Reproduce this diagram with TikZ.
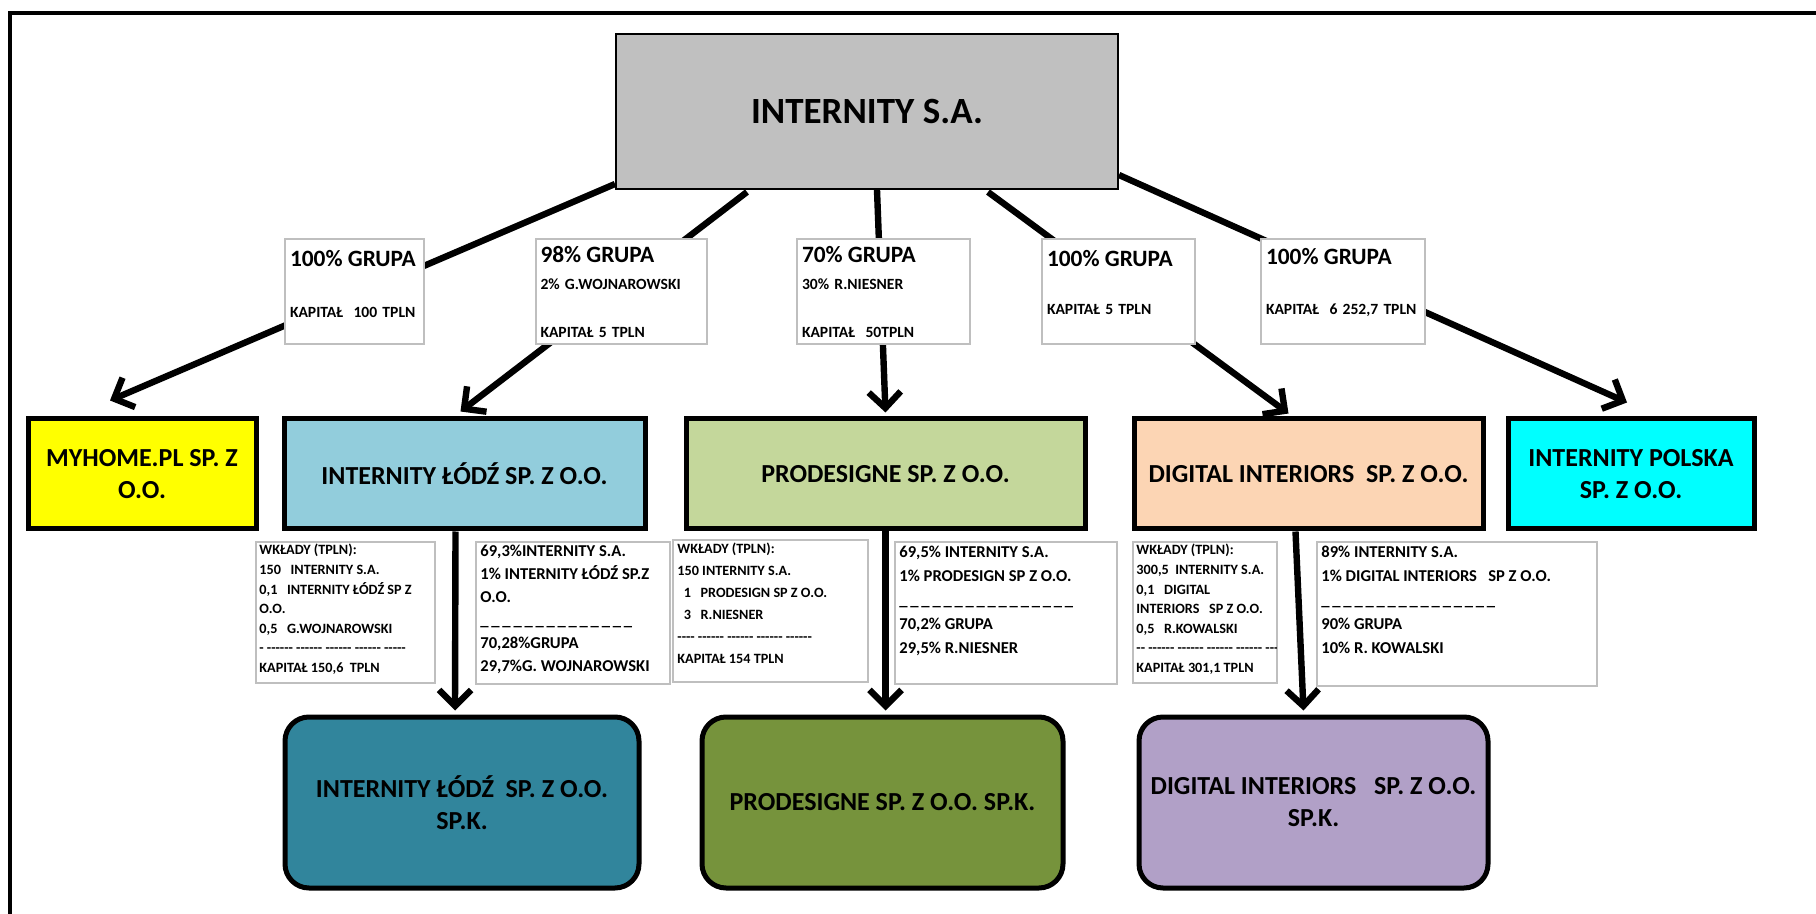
\documentclass[tikz,border=0pt]{standalone}
\usepackage{fontspec}
\setmainfont{Carlito}[Ligatures=TeXOff]
\usetikzlibrary{arrows.meta,calc}

\definecolor{topgray}{HTML}{C0C0C0}
\definecolor{myyellow}{HTML}{FFFF00}
\definecolor{lodzblue}{HTML}{92CDDC}
\definecolor{prodgreen}{HTML}{C4D79B}
\definecolor{digpeach}{HTML}{FCD5B4}
\definecolor{polcyan}{HTML}{00FFFF}
\definecolor{lodzteal}{HTML}{31859C}
\definecolor{prodolive}{HTML}{76933C}
\definecolor{diglilac}{HTML}{B1A0C7}
\definecolor{lblgray}{HTML}{BFBFBF}

\tikzset{
  topbox/.style={draw, line width=1pt, fill=topgray, minimum width=251pt, minimum height=77.5pt,
    font=\fontsize{18.5}{22}\selectfont\bfseries},
  firm/.style={draw, line width=2.5pt, minimum height=55pt, minimum width=#1, align=center,
    font=\fontsize{13}{16}\selectfont\bfseries},
  firmk/.style={draw, line width=2.5pt, rounded corners=12pt, minimum height=85.5pt, minimum width=#1,
    align=center, font=\fontsize{13}{16}\selectfont\bfseries},
  lbl/.style={draw=lblgray, line width=1pt, fill=white, minimum height=52.5pt, text width=#1,
    inner xsep=2.5pt, inner ysep=3pt, align=left, font=\fontsize{7.8}{9.5}\selectfont\bfseries},
  notebox/.style={draw=lblgray, line width=1pt, fill=white},
  notel/.style={anchor=north west, inner sep=0pt, align=left, font=\fontsize{7.1}{#1}\selectfont\bfseries},
  noter/.style={anchor=north west, inner sep=0pt, align=left, font=\fontsize{8.3}{#1}\selectfont\bfseries},
  link/.style={line width=3.2pt, -{Straight Barb[length=8pt,width=16pt]}}
}

\begin{document}
\begin{tikzpicture}[x=0.5pt,y=-0.5pt]
  \useasboundingbox (0,0) rectangle (1816,914);
  % frame
  \draw[line width=2pt] (10,914) -- (10,13) -- (1816,13);

  \node[topbox] (top) at (867,111.5) {INTERNITY S.A.};

  \node[firm=114pt, fill=myyellow] (myhome) at (142,474) {MYHOME.PL SP. Z\\O.O.};
  \node[firm=180.5pt, fill=lodzblue] (lodz) at (464.5,474) {INTERNITY ŁÓDŹ SP. Z O.O.};
  \node[firm=199.5pt, fill=prodgreen] (prod) at (885.5,474) {PRODESIGNE SP. Z O.O.};
  \node[firm=174.5pt, fill=digpeach] (dig) at (1308.5,474) {DIGITAL INTERIORS\ \ SP. Z O.O.};
  \node[firm=123pt, fill=polcyan] (polska) at (1631,474) {INTERNITY POLSKA\\SP. Z O.O.};

  \node[firmk=177pt, fill=lodzteal] (lodzk) at (462,802.5) {INTERNITY ŁÓDŹ\ \ SP. Z O.O.\\SP.K.};
  \node[firmk=180.5pt, fill=prodolive] (prodk) at (882.5,802.5) {PRODESIGNE SP. Z O.O. SP.K.};
  \node[firmk=174.5pt, fill=diglilac] (digk) at (1313.5,802.5) {DIGITAL INTERIORS\ \ \ SP. Z O.O.\\SP.K.};

  \begin{scope}[link]
    \draw ($(top.south west)+(0,-6)$) -- ($(myhome.north)+(-32,-16)$);
    \draw ($(top.south)+(-120,2)$) -- ($(lodz.north)+(-4,-5)$);
    \draw ($(top.south)+(10,0)$) -- ($(prod.north)+(0,-4)$);
    \draw ($(top.south)+(121,2)$) -- ($(dig.north)+(-20,-3)$);
    \draw ($(top.south east)+(0,-15)$) -- ($(polska.north)+(-4,-14)$);
    \draw ($(lodz.south)+(-9,0)$) -- ($(lodzk.north)+(-7,-4)$);
    \draw (prod.south) -- ($(prodk.north)+(3,-4)$);
    \draw ($(dig.south)+(-13,0)$) -- ($(digk.north)+(-10,-4)$);
  \end{scope}

  \node[lbl=64.5pt, text height=11pt, text depth=35.5pt] (g1) at (354.5,291.5)
    {{\fontsize{11.7}{13}\selectfont 100\% GRUPA}\\[16pt]KAPITAŁ\ \ 100 TPLN};
  \node[lbl=80.5pt, text height=9pt, text depth=37.5pt] (g2) at (621,291.5)
    {{\fontsize{11.7}{13}\selectfont 98\% GRUPA}\\[4pt]2\% G.WOJNAROWSKI\\[14.5pt]KAPITAŁ 5 TPLN};
  \node[lbl=81.5pt, text height=9pt, text depth=37.5pt] (g3) at (883.5,291.5)
    {{\fontsize{11.7}{13}\selectfont 70\% GRUPA}\\[4pt]30\% R.NIESNER\\[14.5pt]KAPITAŁ\ \ 50TPLN};
  \node[lbl=71.5pt, text height=11pt, text depth=35.5pt] (g4) at (1118.5,291.5)
    {{\fontsize{11.7}{13}\selectfont 100\% GRUPA}\\[14.5pt]KAPITAŁ 5 TPLN};
  \node[lbl=77pt, text height=10pt, text depth=36.5pt] (g5) at (1343,291.5)
    {{\fontsize{11.7}{13}\selectfont 100\% GRUPA}\\[15.5pt]KAPITAŁ\ \ 6 252,7 TPLN};

  % notes under the companies
  \draw[notebox] (256,542) rectangle (435,683);
  \draw[notebox] (476,542) rectangle (670,684);
  \draw[notebox] (673,540) rectangle (868,682);
  \draw[notebox] (895,542) rectangle (1117,684);
  \draw[notebox] (1133,542) rectangle (1277,683);
  \draw[notebox] (1317,542) rectangle (1597,686);
  \begin{scope}
    \clip (257,543) rectangle (434,682);
    \node[notel=9.8pt] (w1) at (259,544) {WKŁADY (TPLN):\\150\ \ \ INTERNITY S.A.\\0,1\ \ \ INTERNITY ŁÓDŹ SP Z\\O.O.\\0,5\ \ \ G.WOJNAROWSKI\\- ------ ------ ------ ------ -----\\KAPITAŁ 150,6\ \ TPLN};
  \end{scope}
  \begin{scope}
    \clip (477,543) rectangle (669,683);
    \node[noter=11.5pt] (u1) at (480,545) {69,3\%INTERNITY S.A.\\1\% INTERNITY ŁÓDŹ SP.Z\\O.O.\\\_\,\_\,\_\,\_\,\_\,\_\,\_\,\_\,\_\,\_\,\_\,\_\,\_\,\_\\70,28\%GRUPA\\29,7\%G. WOJNAROWSKI};
  \end{scope}
  \node[notel=11pt] (w2) at (677,543) {WKŁADY (TPLN):\\150 INTERNITY S.A.\\\ \ 1\ \ \ PRODESIGN SP Z O.O.\\\ \ 3\ \ \ R.NIESNER\\---- ------ ------ ------ ------\\KAPITAŁ 154 TPLN};
  \node[noter=12pt] (u2) at (899,546) {69,5\% INTERNITY S.A.\\1\% PRODESIGN SP Z O.O.\\\_\,\_\,\_\,\_\,\_\,\_\,\_\,\_\,\_\,\_\,\_\,\_\,\_\,\_\,\_\,\_\\70,2\% GRUPA\\29,5\% R.NIESNER};
  \begin{scope}
    \clip (1134,543) rectangle (1276,682);
    \node[notel=9.8pt] (w3) at (1136,544) {WKŁADY (TPLN):\\300,5\ \ INTERNITY S.A.\\0,1\ \ \ DIGITAL\\INTERIORS\ \ \ SP Z O.O.\\0,5\ \ \ R.KOWALSKI\\-- ------ ------ ------ ------ ----\\KAPITAŁ 301,1 TPLN};
  \end{scope}
  \node[noter=12pt] (u3) at (1321,546) {89\% INTERNITY S.A.\\1\% DIGITAL INTERIORS\ \ \ SP Z O.O.\\\_\,\_\,\_\,\_\,\_\,\_\,\_\,\_\,\_\,\_\,\_\,\_\,\_\,\_\,\_\,\_\\90\% GRUPA\\10\% R. KOWALSKI};
\end{tikzpicture}
\end{document}
